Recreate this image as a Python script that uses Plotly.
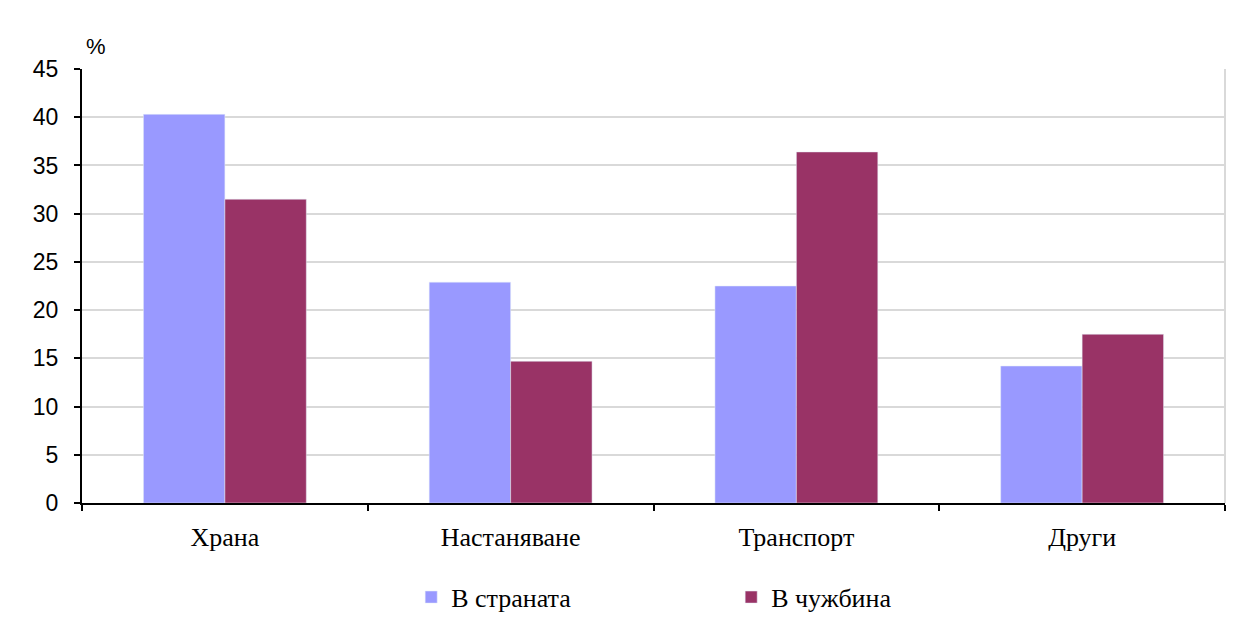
import plotly.graph_objects as go

categories = ["Храна", "Настаняване", "Транспорт", "Други"]
series_names = ["В страната", "В чужбина"]
domestic = [40.3, 22.9, 22.5, 14.2]
abroad = [31.5, 14.7, 36.4, 17.5]
colors = ["#9999ff", "#993366"]

SERIF = "Liberation Serif"
SANS = "Liberation Sans"

fig = go.Figure()
fig.add_trace(go.Bar(x=categories, y=domestic, name=series_names[0], marker_color=colors[0]))
fig.add_trace(go.Bar(x=categories, y=abroad, name=series_names[1], marker_color=colors[1]))

fig.update_layout(
    width=1226, height=625,
    margin=dict(l=74, r=9, t=61, b=130),
    plot_bgcolor="white", paper_bgcolor="white",
    barmode="group", bargap=0.43, bargroupgap=0,
    font=dict(family=SERIF, size=26, color="black"),
    showlegend=True,
    legend=dict(orientation="h", x=0.288, xanchor="left", y=-0.217, yanchor="middle",
                font=dict(family=SERIF, size=26), entrywidth=275, itemwidth=30,
                traceorder="normal"),
    xaxis=dict(showline=True, linecolor="black", linewidth=2, ticks="outside",
               tickson="boundaries", ticklen=6, tickcolor="black", tickwidth=2,
               tickfont=dict(family=SERIF, size=26), ticklabelstandoff=10),
    yaxis=dict(range=[0, 45], dtick=5, showline=True, linecolor="black", linewidth=2,
               ticks="outside", ticklen=6, tickcolor="black", tickwidth=2,
               showgrid=True, gridcolor="#d9d9d9", gridwidth=2,
               tickfont=dict(family=SANS, size=23), zeroline=False,
               ticklabelstandoff=11),
)
fig.add_shape(type="line", xref="paper", yref="paper", x0=1, x1=1, y0=0, y1=1,
              line=dict(color="#d9d9d9", width=2))
fig.add_annotation(text="%", xref="paper", yref="paper", x=0.002, y=1.0507,
                   xanchor="left", yanchor="middle", showarrow=False,
                   font=dict(family=SANS, size=22))

fig.write_html("out.html")
